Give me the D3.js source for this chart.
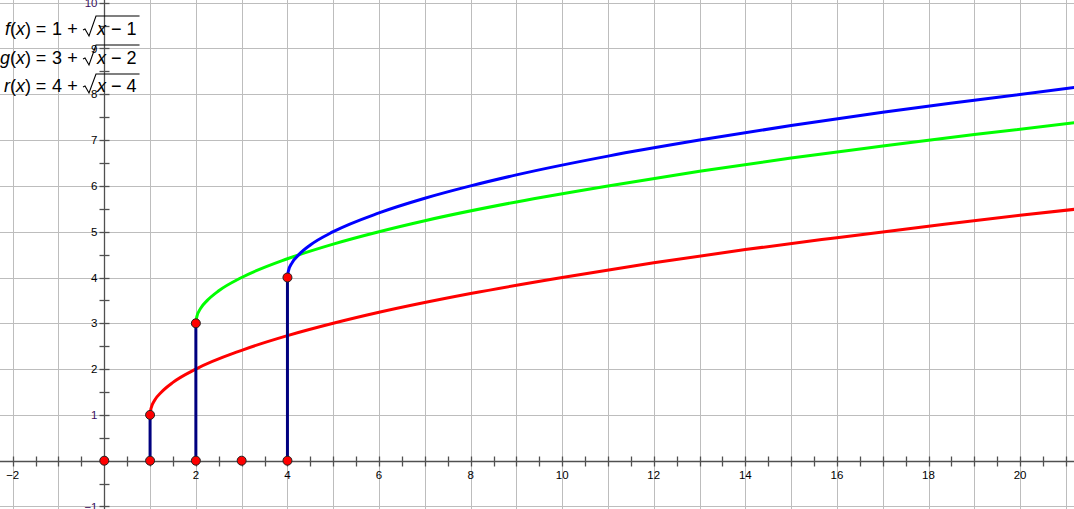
<!DOCTYPE html>
<html><head><meta charset="utf-8">
<script src="https://cdn.jsdelivr.net/npm/d3@7"></script>
<style>html,body{margin:0;padding:0;background:#fff;overflow:hidden}svg{display:block}</style>
</head><body>
<script>
// ---- data ----
const redX   = [1, 1.02, 1.1, 1.25, 1.5, 2, 3, 4, 5, 6, 8, 10, 12, 14, 16, 18, 20, 21.2];
const redY   = [1, 1.14, 1.32, 1.5, 1.71, 2, 2.41, 2.73, 3, 3.24, 3.65, 4, 4.32, 4.61, 4.87, 5.12, 5.36, 5.49];
const greenX = [2, 2.02, 2.1, 2.25, 2.5, 3, 4, 5, 6, 7, 9, 11, 13, 15, 17, 19, 21.2];
const greenY = [3, 3.14, 3.32, 3.5, 3.71, 4, 4.41, 4.73, 5, 5.24, 5.65, 6, 6.32, 6.61, 6.87, 7.12, 7.38];
const blueX  = [4, 4.02, 4.1, 4.25, 4.5, 5, 6, 7, 8, 9, 11, 13, 15, 17, 19, 21.2];
const blueY  = [4, 4.14, 4.32, 4.5, 4.71, 5, 5.41, 5.73, 6, 6.24, 6.65, 7, 7.32, 7.61, 7.87, 8.15];
const segX   = [1, 2, 4];
const segTop = [1, 3, 4];
const ptX    = [0, 1, 1, 2, 2, 3, 4, 4];
const ptY    = [0, 0, 1, 0, 3, 0, 0, 4];
const xTickLabels = [-2, 2, 4, 6, 8, 10, 12, 14, 16, 18, 20];
const yTickLabels = [-1, 1, 2, 3, 4, 5, 6, 7, 8, 9, 10];
const legendNames = ["f", "g", "r"];
const legendConst = ["1", "3", "4"];
const legendInner = ["1", "2", "4"];

const W = 1074, H = 509;
const x = d3.scaleLinear().domain([-2, 20]).range([12.7, 1020.1]);
const y = d3.scaleLinear().domain([0, 7]).range([460.7, 140.1]);
const xMin = x.invert(0), xMax = x.invert(W), yMax = y.invert(0), yMin = y.invert(H);

const svg = d3.select("body").append("svg").attr("width", W).attr("height", H);

// grid
const gx = d3.range(Math.ceil(xMin), Math.floor(xMax) + 1);
const gy = d3.range(Math.ceil(yMin), Math.floor(yMax) + 1);
const grid = svg.append("g").attr("stroke", "#bdbdbd").attr("stroke-width", 1);
grid.selectAll("line.v").data(gx).join("line").attr("class", "v")
  .attr("x1", d => Math.round(x(d)) + 0.5).attr("x2", d => Math.round(x(d)) + 0.5)
  .attr("y1", 0).attr("y2", H);
grid.selectAll("line.h").data(gy).join("line").attr("class", "h")
  .attr("y1", d => Math.round(y(d)) + 0.5).attr("y2", d => Math.round(y(d)) + 0.5)
  .attr("x1", 0).attr("x2", W);

// axes
const x0 = Math.round(x(0)) + 0.5, y0 = Math.round(y(0)) + 0.5;
const ax = svg.append("g").attr("stroke", "#505050").attr("stroke-width", 1.3);
ax.append("line").attr("x1", 0).attr("x2", W).attr("y1", y0).attr("y2", y0);
ax.append("line").attr("x1", x0).attr("x2", x0).attr("y1", 0).attr("y2", H);
const xt = d3.range(Math.ceil(xMin * 2) / 2, xMax, 0.5).filter(d => d !== 0);
const yt = d3.range(Math.ceil(yMin * 2) / 2, yMax, 0.5).filter(d => d !== 0);
ax.selectAll("line.xt").data(xt).join("line").attr("class", "xt")
  .attr("x1", d => Math.round(x(d)) + 0.5).attr("x2", d => Math.round(x(d)) + 0.5)
  .attr("y1", y0 - 5).attr("y2", y0 + 5);
ax.selectAll("line.yt").data(yt).join("line").attr("class", "yt")
  .attr("y1", d => Math.round(y(d)) + 0.5).attr("y2", d => Math.round(y(d)) + 0.5)
  .attr("x1", x0 - 5).attr("x2", x0 + 5);

// tick labels
const lab = svg.append("g").attr("font-family", "Liberation Sans, Arial, sans-serif").attr("font-size", 11.5).attr("fill", "#000");
lab.selectAll("text.xl").data(xTickLabels).join("text").attr("class", "xl")
  .attr("x", d => x(d)).attr("y", y0 + 17).attr("text-anchor", "middle")
  .text(d => d < 0 ? "\u2212" + (-d) : d);
lab.selectAll("text.yl").data(yTickLabels).join("text").attr("class", "yl")
  .attr("x", x0 - 7).attr("y", d => y(d)).attr("dy", "0.35em").attr("text-anchor", "end")
  .attr("fill", d => (d === 1 || d === -1 || d === 10) ? "#3a1060" : "#000")
  .text(d => d < 0 ? "\u2212" + (-d) : d);

// curves
const line = d3.line().x(d => x(d[0])).y(d => y(d[1])).curve(d3.curveMonotoneX);
const series = [
  {xs: redX, ys: redY, c: "#ff0000"},
  {xs: greenX, ys: greenY, c: "#00ff00"},
  {xs: blueX, ys: blueY, c: "#0000ff"}
];
svg.append("g").selectAll("path").data(series).join("path")
  .attr("d", s => line(s.xs.map((v, i) => [v, s.ys[i]])))
  .attr("fill", "none").attr("stroke", s => s.c).attr("stroke-width", 3)
  .attr("stroke-linecap", "round");

// vertical segments
svg.append("g").selectAll("line").data(segX).join("line")
  .attr("x1", d => x(d)).attr("x2", d => x(d))
  .attr("y1", y(0)).attr("y2", (d, i) => y(segTop[i]))
  .attr("stroke", "#00007f").attr("stroke-width", 3);

// points
svg.append("g").selectAll("circle").data(ptX).join("circle")
  .attr("cx", d => x(d)).attr("cy", (d, i) => y(ptY[i])).attr("r", 4.5)
  .attr("fill", "#ff0000").attr("stroke", "#222").attr("stroke-width", 1);

// legend
const lg = svg.append("g").attr("font-family", "Liberation Sans, Arial, sans-serif").attr("font-size", 18).attr("fill", "#000");
const bases = [35, 64, 92], tops = [16, 45, 74];
legendNames.forEach((n, i) => {
  const b = bases[i];
  const t = lg.append("text").attr("x", 31).attr("y", b).attr("text-anchor", "end");
  t.append("tspan").attr("font-style", "italic").text(n);
  t.append("tspan").text("(");
  t.append("tspan").attr("font-style", "italic").text("x");
  t.append("tspan").text(")");
  lg.append("text").attr("x", 41).attr("y", b).attr("text-anchor", "middle").text("=");
  lg.append("text").attr("x", 57).attr("y", b).attr("text-anchor", "middle").text(legendConst[i]);
  lg.append("text").attr("x", 72.5).attr("y", b).attr("text-anchor", "middle").text("+");
  const inner = lg.append("text").attr("x", 97).attr("y", b);
  inner.append("tspan").attr("font-style", "italic").text("x");
  inner.append("tspan").text(" \u2212 " + legendInner[i]);
  const iw = inner.node().getComputedTextLength();
  const rx = 83;
  lg.append("path")
    .attr("d", `M${rx},${b - 5} L${rx + 2},${b - 6} L${rx + 6},${b + 1} L${rx + 13},${tops[i]} L${97 + iw + 3},${tops[i]}`)
    .attr("fill", "none").attr("stroke", "#000").attr("stroke-width", 1.1);
});
</script>
</body></html>
